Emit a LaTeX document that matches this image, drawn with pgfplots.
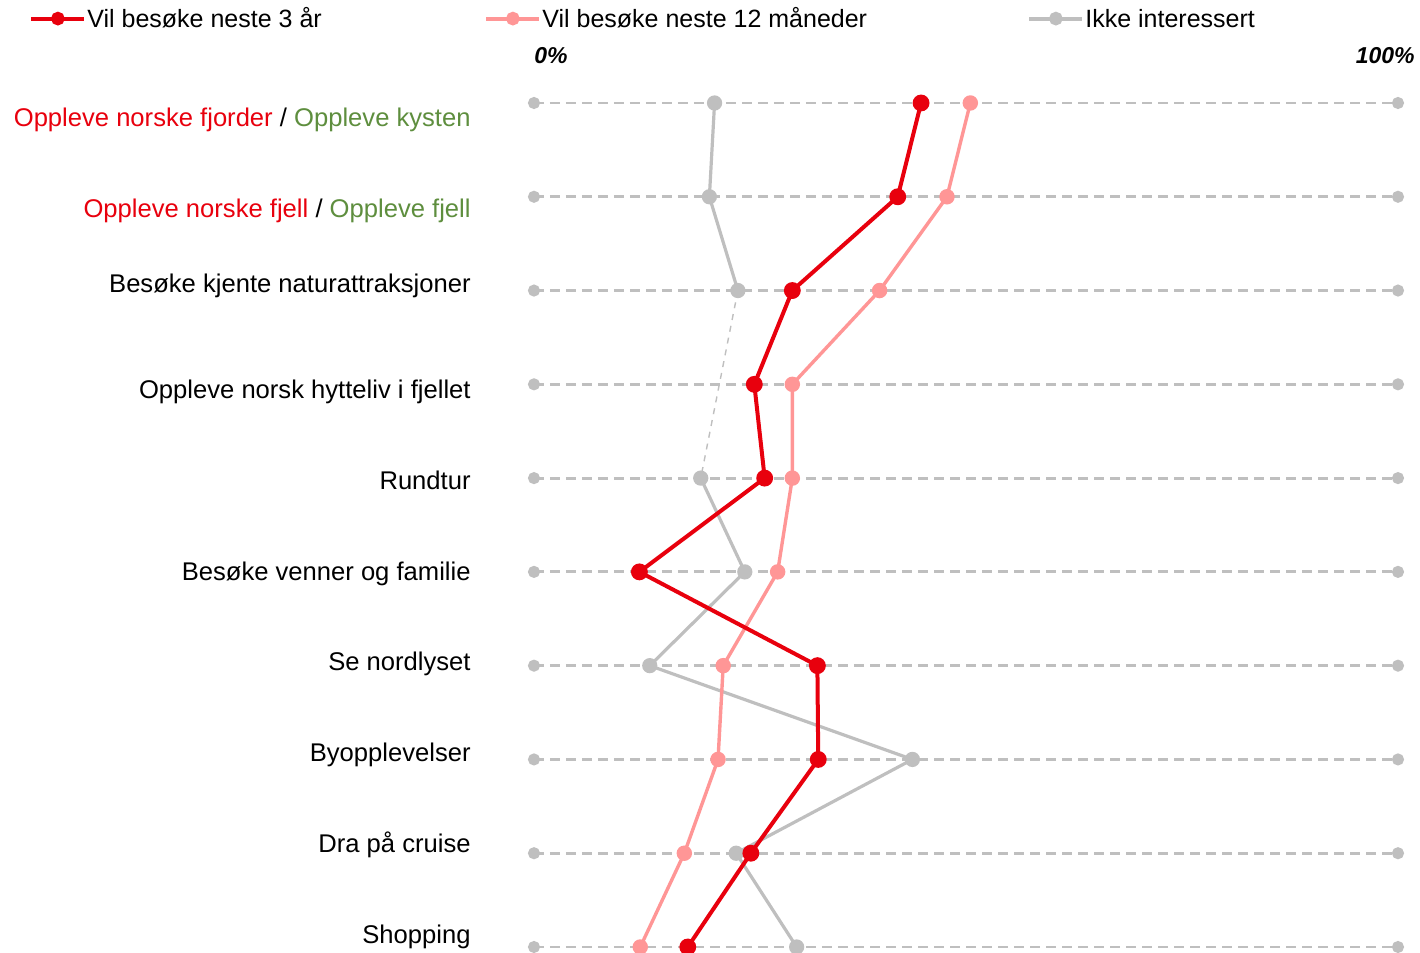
\documentclass[border=0pt]{standalone}
\usepackage{pgfplots}
\pgfplotsset{compat=1.18}
\usepackage{pgfplotstable}
\usepackage{fontspec}
\setmainfont{Liberation Sans}
\definecolor{cred}{HTML}{E8000D}
\definecolor{cpink}{HTML}{FF9696}
\definecolor{cgray}{HTML}{BFBFBF}
\definecolor{cgreen}{HTML}{5E8E3E}
\pgfplotstableread{
row red pink gray
0 44.8 50.5 20.9
1 42.1 47.8 20.3
2 29.9 40.0 23.6
3 25.5 29.9 nan
4 26.7 29.9 19.3
5 12.2 28.2 24.4
6 32.8 21.9 13.4
7 32.9 21.3 43.8
8 25.1 17.4 23.4
9 17.8 12.3 30.4
}\datatable
\begin{document}
\fontsize{12.8}{15}\selectfont
\begin{tikzpicture}
\begin{axis}[
  at={(267pt,3pt)}, anchor=south west,
  scale only axis, width=432pt, height=422pt,
  xmin=0, xmax=100, ymin=0, ymax=9,
  axis lines=none, clip=false,
  unbounded coords=jump,
  legend columns=3,
  legend style={draw=none, fill=none, inner sep=0pt, column sep=0pt,
    at={(axis description cs:-0.5845,1.1137)}, anchor=north west,
    font=\fontsize{12.5}{15}\selectfont,
    nodes={inner sep=0pt, anchor=base west}},
  legend image code/.code={\draw[mark repeat=2,mark phase=2,#1] plot coordinates {(0pt,4.5pt) (13.25pt,4.5pt) (26.5pt,4.5pt)};},
]
\pgfplotsinvokeforeach{0,...,9}{
  \addplot[cgray, line width=1.4pt, dash pattern=on 5pt off 3pt, mark=*, mark size=2.3pt, mark options={solid, draw=cgray, fill=cgray}, forget plot]
    coordinates {(0,#1) (100,#1)};
}
\addplot[cgray, line width=0.7pt, dash pattern=on 3pt off 3pt, forget plot] coordinates {(23.6,7) (19.3,5)};
\addplot[cgray, line width=1.6pt, mark=*, mark size=3pt, mark options={solid, fill=cgray, draw=cgray}, forget plot]
  table[x=gray, y expr=9-\thisrow{row}] {\datatable};
\addplot[cpink, line width=1.7pt, mark=*, mark size=3pt, mark options={solid, fill=cpink, draw=cpink}, forget plot]
  table[x=pink, y expr=9-\thisrow{row}] {\datatable};
\addplot[cred, line width=2pt, mark=*, mark size=3.2pt, mark options={solid, fill=cred, draw=cred}, forget plot]
  table[x=red, y expr=9-\thisrow{row}] {\datatable};
\addlegendimage{cred, line width=2pt, mark=*, mark size=2.4pt, mark options={fill=cred, draw=cred}}
\addlegendentry{\makebox[199pt][l]{\hspace{0.5pt}Vil besøke neste 3 år}}
\addlegendimage{cpink, line width=2pt, mark=*, mark size=2.4pt, mark options={fill=cpink, draw=cpink}}
\addlegendentry{\makebox[243pt][l]{\hspace{0.5pt}Vil besøke neste 12 måneder}}
\addlegendimage{cgray, line width=2pt, mark=*, mark size=2.4pt, mark options={fill=cgray, draw=cgray}}
\addlegendentry{\hspace{0.5pt}Ikke interessert}
\node[anchor=base west, font=\fontsize{11.5}{14}\selectfont\bfseries\itshape, inner sep=0pt] at (axis cs:0,9) [yshift=19.5pt] {0\%};
\node[anchor=base east, font=\fontsize{11.5}{14}\selectfont\bfseries\itshape, inner sep=0pt] at (axis cs:100,9) [xshift=8.5pt, yshift=19.5pt] {100\%};
\end{axis}
\begin{scope}[every node/.style={anchor=base east, inner sep=0pt}]
\node at (235.5pt,413pt) {\textcolor{cred}{Oppleve norske fjorder} / \textcolor{cgreen}{Oppleve kysten}};
\node at (235.5pt,367.5pt) {\textcolor{cred}{Oppleve norske fjell} / \textcolor{cgreen}{Oppleve fjell}};
\node at (235.5pt,330pt) {Besøke kjente naturattraksjoner};
\node at (235.5pt,277pt) {Oppleve norsk hytteliv i fjellet};
\node at (235.5pt,231.5pt) {Rundtur};
\node at (235.5pt,186pt) {Besøke venner og familie};
\node at (235.5pt,141pt) {Se nordlyset};
\node at (235.5pt,95.5pt) {Byopplevelser};
\node at (235.5pt,50pt) {Dra på cruise};
\node at (235.5pt,4.5pt) {Shopping};
\end{scope}
\pgfresetboundingbox
\path[use as bounding box] (0,0) rectangle (710pt,476.5pt);
\end{tikzpicture}
\end{document}
